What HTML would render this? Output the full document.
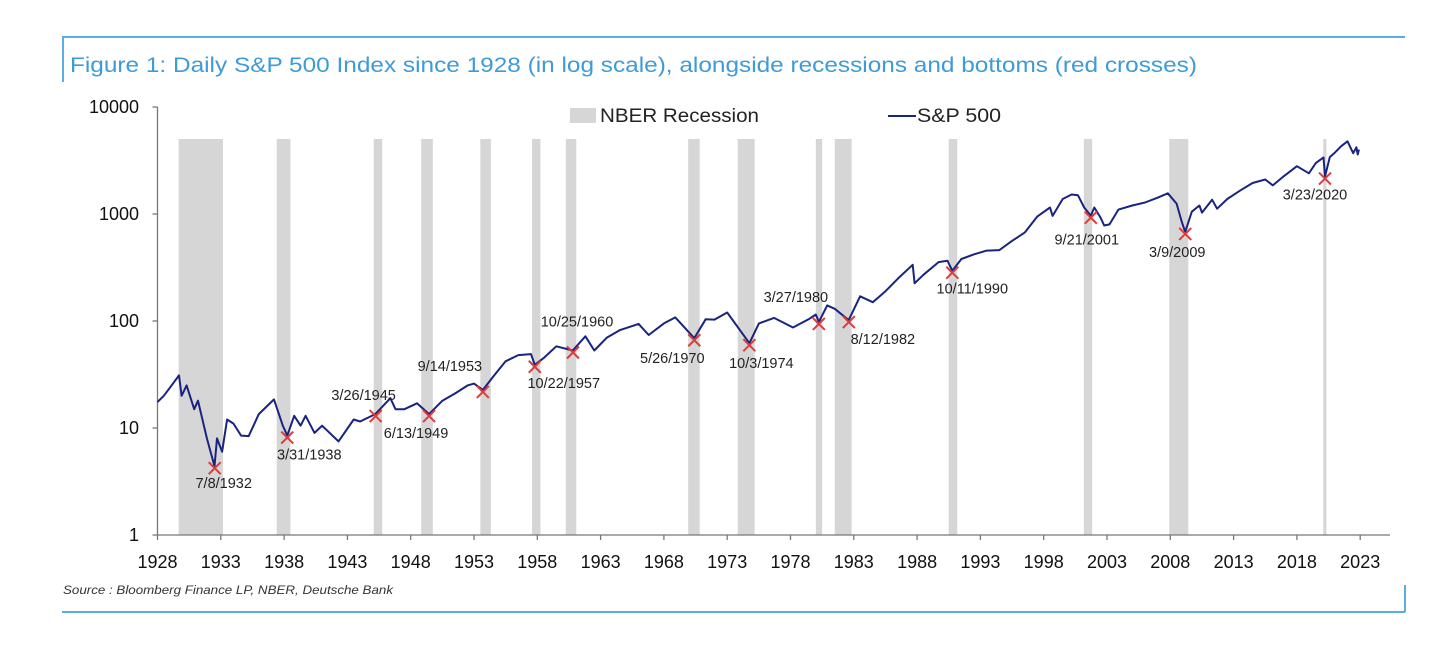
<!DOCTYPE html>
<html><head><meta charset="utf-8"><style>
body{margin:0;background:#fff;width:1456px;height:654px;overflow:hidden;font-family:"Liberation Sans",sans-serif}
svg{position:absolute;left:0;top:0}
</style></head><body>
<svg id="c" width="1456" height="654">
<line x1="62" y1="37" x2="1405" y2="37" stroke="#5aaee6" stroke-width="2"/>
<line x1="63" y1="37" x2="63" y2="82" stroke="#5aaee6" stroke-width="2"/>
<line x1="62" y1="612" x2="1405" y2="612" stroke="#5aaee6" stroke-width="2"/>
<line x1="1405" y1="585" x2="1405" y2="612" stroke="#5aaee6" stroke-width="2"/>
<text x="70" y="72" font-size="21.5" fill="#3d9bd8" textLength="1127" lengthAdjust="spacingAndGlyphs">Figure 1: Daily S&amp;P 500 Index since 1928 (in log scale), alongside recessions and bottoms (red crosses)</text>
<text x="63" y="594" font-size="12" font-style="italic" fill="#333" textLength="330" lengthAdjust="spacingAndGlyphs">Source : Bloomberg Finance LP, NBER, Deutsche Bank</text>
<g id="bands"></g><g id="axes"></g><g id="line"></g><g id="marks"></g>
<rect x="570" y="108" width="26" height="15" fill="#d6d6d6"/>
<text x="600" y="122" font-size="19" fill="#222" textLength="159" lengthAdjust="spacingAndGlyphs">NBER Recession</text>
<line x1="888" y1="116" x2="916" y2="116" stroke="#1a2380" stroke-width="2"/>
<text x="917" y="122" font-size="19" fill="#222" textLength="84" lengthAdjust="spacingAndGlyphs">S&amp;P 500</text>
</svg>
<script>
const xTicks=[1928,1933,1938,1943,1948,1953,1958,1963,1968,1973,1978,1983,1988,1993,1998,2003,2008,2013,2018,2023];
const yTicks=[1,10,100,1000,10000];
const recStart=[1929.67,1937.42,1945.08,1948.83,1953.5,1957.58,1960.25,1969.92,1973.83,1980.0,1981.5,1990.5,2001.17,2007.92,2020.08];
const recEnd=[1933.17,1938.5,1945.75,1949.75,1954.33,1958.25,1961.08,1970.83,1975.17,1980.5,1982.83,1991.17,2001.83,2009.42,2020.33];
const years=[1928.0,1928.5,1929.0,1929.7,1929.9,1930.3,1930.9,1931.2,1931.9,1932.5,1932.7,1933.1,1933.5,1934.0,1934.6,1935.2,1936.0,1937.2,1937.9,1938.25,1938.8,1939.3,1939.7,1940.4,1941.0,1942.3,1943.5,1944.0,1945.2,1946.4,1946.8,1947.5,1948.5,1949.45,1950.5,1951.5,1952.5,1953.0,1953.7,1954.5,1955.5,1956.5,1957.5,1957.8,1958.5,1959.5,1960.8,1961.8,1962.5,1963.5,1964.5,1966.0,1966.8,1968.0,1968.9,1970.4,1971.3,1972.0,1973.0,1974.75,1975.5,1976.7,1978.2,1979.5,1980.0,1980.24,1980.9,1981.5,1982.6,1983.5,1984.5,1985.5,1986.5,1987.65,1987.8,1988.5,1989.7,1990.4,1990.78,1991.5,1992.5,1993.5,1994.5,1995.5,1996.5,1997.5,1998.5,1998.7,1999.5,2000.2,2000.7,2001.2,2001.72,2002.0,2002.5,2002.78,2003.2,2003.9,2005.0,2006.0,2007.0,2007.8,2008.5,2008.9,2009.18,2009.7,2010.3,2010.5,2011.3,2011.7,2012.5,2013.5,2014.5,2015.5,2016.1,2017.0,2018.0,2018.95,2019.5,2020.1,2020.22,2020.6,2021.0,2021.5,2022.0,2022.45,2022.7,2022.8,2022.9];
const prices=[17.5,20,24,31,20,25,15,18,8,4.4,8,6,12,11,8.5,8.4,13.5,18.5,10.5,8.5,13,10.5,13,9,10.5,7.5,12,11.5,13.5,19,15,15,17,13.5,18,21,25,26,22.7,30,42,48,49,39,45,58,53,72,53,70,82,94,74,95,108,69,104,103,120,62,95,107,87,105,115,98,140,130,102,170,150,190,250,335,225,270,355,365,295,380,420,455,460,560,670,950,1150,960,1380,1520,1500,1150,965,1150,920,780,800,1100,1200,1280,1420,1560,1250,850,680,1050,1200,1030,1360,1120,1380,1650,1950,2100,1850,2270,2800,2400,3000,3380,2240,3400,3750,4300,4780,3700,4200,3600,4000];
const bottomLabels=["7/8/1932","3/31/1938","3/26/1945","6/13/1949","9/14/1953","10/22/1957","10/25/1960","5/26/1970","10/3/1974","3/27/1980","8/12/1982","10/11/1990","9/21/2001","3/9/2009","3/23/2020"];
const bottomYears=[1932.52,1938.25,1945.23,1949.45,1953.7,1957.8,1960.82,1970.4,1974.75,1980.24,1982.61,1990.78,2001.72,2009.18,2020.22];
const bottomValues=[4.4,8.5,13.5,13.5,22.7,39,53,69,62,98,102,295,965,680,2240];
// label placement (layout, not data): dx, dy
const labelPos=[[9,15],[22,17],[-12,-21],[-13,17],[-33,-26],[29,16],[4,-31],[-22,18],[12,18],[-23,-27],[34,17],[20,16],[-4,22],[-8,18],[-10,16]];
const NS="http://www.w3.org/2000/svg";
const X0=157.5,PX=12.66,Y0=535,DEC=107;
const xs=y=>X0+(y-1928)*PX;
const ys=v=>Y0-Math.log10(v)*DEC;
function mk(t,a,p){const e=document.createElementNS(NS,t);for(const k in a)e.setAttribute(k,a[k]);p.appendChild(e);return e;}
const bands=document.getElementById('bands');
recStart.forEach((s,i)=>{
 const r=mk('rect',{x:xs(s),y:139,width:Math.max(2,xs(recEnd[i])-xs(s)),height:Y0-139,fill:'#d6d6d6'},bands);
 
 
});
const ax=document.getElementById('axes');
const ya=mk('line',{x1:X0,y1:ys(10000),x2:X0,y2:Y0,stroke:'#777','stroke-width':1.3},ax);


const xa=mk('line',{x1:X0,y1:Y0,x2:1390,y2:Y0,stroke:'#777','stroke-width':1.3},ax);


yTicks.forEach(v=>{
 mk('line',{x1:X0-5,y1:ys(v),x2:X0,y2:ys(v),stroke:'#777','stroke-width':1.3},ax);
 const t=mk('text',{x:139,y:ys(v)+6,'font-size':18,'text-anchor':'end',fill:'#111'},ax);t.textContent=v;
 
 
});
xTicks.forEach(v=>{
 mk('line',{x1:xs(v),y1:Y0,x2:xs(v),y2:Y0+5,stroke:'#777','stroke-width':1.3},ax);
 const t=mk('text',{x:xs(v),y:Y0+33,'font-size':18,'text-anchor':'middle',fill:'#111'},ax);t.textContent=v;
 
 
});
const pl=mk('polyline',{points:years.map((y,i)=>xs(y).toFixed(1)+','+ys(prices[i]).toFixed(1)).join(' '),fill:'none',stroke:'#1a2380','stroke-width':2,'stroke-linejoin':'round'},document.getElementById('line'));


const mg=document.getElementById('marks');
bottomYears.forEach((y,i)=>{
 const cx=xs(y),cy=ys(bottomValues[i])+2,s=6;
 const p=mk('path',{d:`M${cx-s},${cy-s}L${cx+s},${cy+s}M${cx-s},${cy+s}L${cx+s},${cy-s}`,stroke:'#e03a3a','stroke-width':2},mg);
 
 
 const t=mk('text',{x:cx+labelPos[i][0],y:cy+labelPos[i][1]+5,'font-size':14.5,'text-anchor':'middle',fill:'#222'},mg);
 t.textContent=bottomLabels[i];
 
 
});
</script>
</body></html>
